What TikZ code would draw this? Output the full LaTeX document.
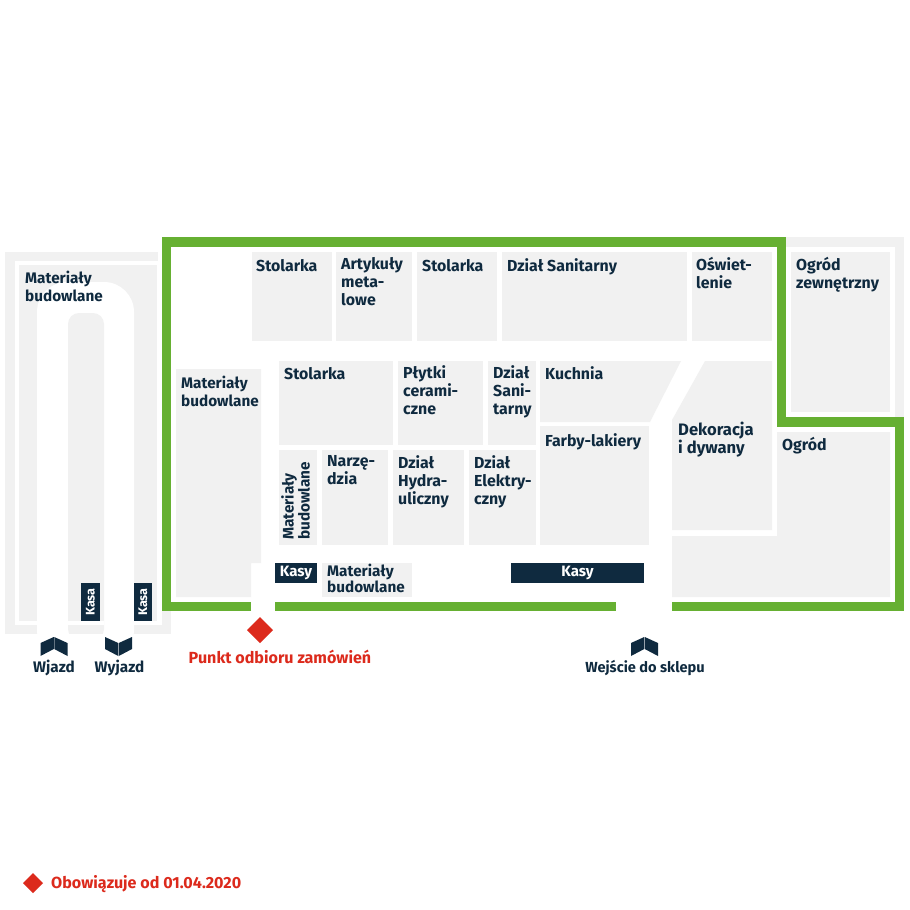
\documentclass[tikz,border=0pt]{standalone}
\usepackage{fontspec}
\setmainfont{Fira Sans}[BoldFont={Fira Sans Bold}]
\definecolor{navy}{HTML}{0F2A3F}
\definecolor{lmgreen}{HTML}{66B032}
\definecolor{lmgray}{HTML}{F1F1F1}
\definecolor{lmred}{HTML}{DC2A1C}
\tikzset{
  area/.style={fill=lmgray,draw=none},
  road/.style={fill=white,draw=none},
  desk/.style={fill=navy,draw=none,text=white,font=\bfseries\fontsize{15}{15}\selectfont,inner sep=0pt},
  lbl/.style={anchor=north west,inner sep=0pt,align=left,text=navy,font=\bfseries\fontsize{15.9}{18}\selectfont,execute at begin node={\rule{0pt}{14pt}}},
  budlbl/.style={lbl,font=\bfseries\fontsize{15.3}{18}\selectfont},
  vlbl/.style={anchor=center,inner sep=0pt,align=left,text=navy,rotate=90,font=\bfseries\fontsize{15.3}{15}\selectfont},
  navycap/.style={anchor=center,inner sep=0pt,text=navy,font=\bfseries\fontsize{15.3}{18}\selectfont},
  redcap/.style={anchor=center,inner sep=0pt,text=lmred,font=\bfseries\fontsize{16.1}{18}\selectfont},
  wall/.style={draw=lmgreen,line width=9.5pt,line cap=butt,line join=miter},
  redmark/.style={fill=lmred,draw=none},
  chevfill/.style={fill=navy,draw=none}
}
\newcommand{\upchevron}[1]{%
  \fill[chevfill] (#1-13.5,643)--(#1-0.25,637)--(#1-0.25,649)--(#1-13.5,656)--cycle;
  \fill[chevfill] (#1+13.5,643)--(#1+0.25,637)--(#1+0.25,649)--(#1+13.5,656)--cycle;}
\newcommand{\downchevron}[1]{%
  \fill[chevfill] (#1-13.5,637)--(#1-0.25,643)--(#1-0.25,656)--(#1-13.5,649)--cycle;
  \fill[chevfill] (#1+13.5,637)--(#1+0.25,643)--(#1+0.25,656)--(#1+13.5,649)--cycle;}
\begin{document}
\begin{tikzpicture}[x=1pt,y=-1pt]
\useasboundingbox (0,0) rectangle (910,910);
\fill[white] (0,0) rectangle (910,910);
% left yard
\fill[area] (5,252) rectangle (171,634);
\fill[road] (15,261) rectangle (162,625);
\fill[road] (158,252) rectangle (162,261);
\fill[area] (19,265) rectangle (157,621);
\fill[road,rounded corners=30pt] (37,660) -- (37,282) -- (134,282) -- (134,660) -- cycle;
\fill[area,rounded corners=11pt] (68,640) -- (68,313) -- (104,313) -- (104,640) -- cycle;
\fill[road] (68,621) rectangle (104,625);
\fill[road] (0,634) rectangle (910,660);
% right yard
\fill[area] (786,237) rectangle (904,417);
\fill[road] (786,247) rectangle (895,417);
\fill[area] (791,252) rectangle (890,412);
% departments
\fill[area] (252,252) rectangle (332,341);
\fill[area] (336,252) rectangle (412,341);
\fill[area] (417,252) rectangle (497,341);
\fill[area] (502,252) rectangle (687,341);
\fill[area] (692,252) rectangle (772,341);
\fill[area] (279,361) rectangle (393,445);
\fill[area] (398,361) rectangle (483,445);
\fill[area] (488,361) rectangle (536,445);
\fill[area] (540,361) -- (681,361) -- (650,422) -- (540,422) -- cycle;
\fill[area] (540,426) rectangle (649,545);
\fill[area] (705,361) -- (772,361) -- (772,530) -- (672,530) -- (672,420) -- cycle;
\fill[area] (777,432) -- (890,432) -- (890,597) -- (672,597) -- (672,536) -- (777,536) -- cycle;
\fill[area] (279,450) rectangle (317,545);
\fill[area] (322,450) rectangle (388,545);
\fill[area] (393,450) rectangle (464,545);
\fill[area] (469,450) rectangle (536,545);
\fill[area] (176,369) -- (261,369) -- (261,563) -- (251,563) -- (251,597) -- (176,597) -- cycle;
\fill[area] (322,563) rectangle (412,597);
% green walls
\draw[wall] (251,606.5) -- (166.5,606.5) -- (166.5,242) -- (781.5,242) -- (781.5,422) -- (899.5,422) -- (899.5,606.5) -- (672,606.5);
\draw[wall] (275,606.5) -- (616,606.5);
% cash desks
\node[desk,minimum width=42pt,minimum height=20pt] (kasyA) at (296,573) {Kasy};
\node[desk,minimum width=133pt,minimum height=20pt] (kasyB) at (577.5,573) {Kasy};
\node[desk,minimum width=38pt,minimum height=19pt,rotate=90,font=\bfseries\fontsize{12.5}{12.5}\selectfont] (kasaA) at (90.5,602) {Kasa};
\node[desk,minimum width=38pt,minimum height=18pt,rotate=90,font=\bfseries\fontsize{12.5}{12.5}\selectfont] (kasaB) at (143,602) {Kasa};
% labels
\node[budlbl] (l1) at (25,271) {Materiały\\budowlane};
\node[budlbl] (l2) at (181,376) {Materiały\\budowlane};
\node[lbl] (l3) at (256,257) {Stolarka};
\node[lbl] (l4) at (341,257) {Artykuły\\meta-\\lowe};
\node[lbl] (l5) at (422,257) {Stolarka};
\node[lbl] (l6) at (507,257) {Dział Sanitarny};
\node[lbl] (l7) at (696,257) {Oświet-\\lenie};
\node[lbl] (l8) at (796,257) {Ogród\\zewnętrzny};
\node[lbl] (l9) at (284,365) {Stolarka};
\node[lbl] (l10) at (403,365) {Płytki\\cerami-\\czne};
\node[lbl] (l11) at (493,365) {Dział\\Sani-\\tarny};
\node[lbl] (l12) at (545,365) {Kuchnia};
\node[lbl] (l13) at (545,432) {Farby-lakiery};
\node[lbl,font=\bfseries\fontsize{16.6}{18}\selectfont] (l14) at (678,422) {Dekoracja\\i dywany};
\node[lbl] (l15) at (782,436) {Ogród};
\node[vlbl] (l16) at (295.5,501) {Materiały\\budowlane};
\node[lbl] (l17) at (327,455) {Narzę-\\dzia};
\node[lbl] (l18) at (398,455) {Dział\\Hydra-\\uliczny};
\node[lbl] (l19) at (474,455) {Dział\\Elektry-\\czny};
\node[lbl,font=\bfseries\fontsize{15.3}{15}\selectfont] (l20) at (327,564) {Materiały\\budowlane};
% entrances
\upchevron{54}
\downchevron{118.5}
\upchevron{644.5}
\node[navycap] (wjazd) at (54,668) {Wjazd};
\node[navycap] (wyjazd) at (119.5,668) {Wyjazd};
\node[navycap,font=\bfseries\fontsize{14.6}{18}\selectfont] (wejscie) at (645,668) {Wejście do sklepu};
\fill[redmark] (260,617) -- (273,630) -- (260,643) -- (247,630) -- cycle;
\node[redcap] (punkt) at (280,657) {Punkt odbioru zamówień};
\fill[redmark] (33,873) -- (43,883) -- (33,893) -- (23,883) -- cycle;
\node[redcap,anchor=west] (legend) at (51,884) {Obowiązuje od 01.04.2020};
\end{tikzpicture}
\end{document}
